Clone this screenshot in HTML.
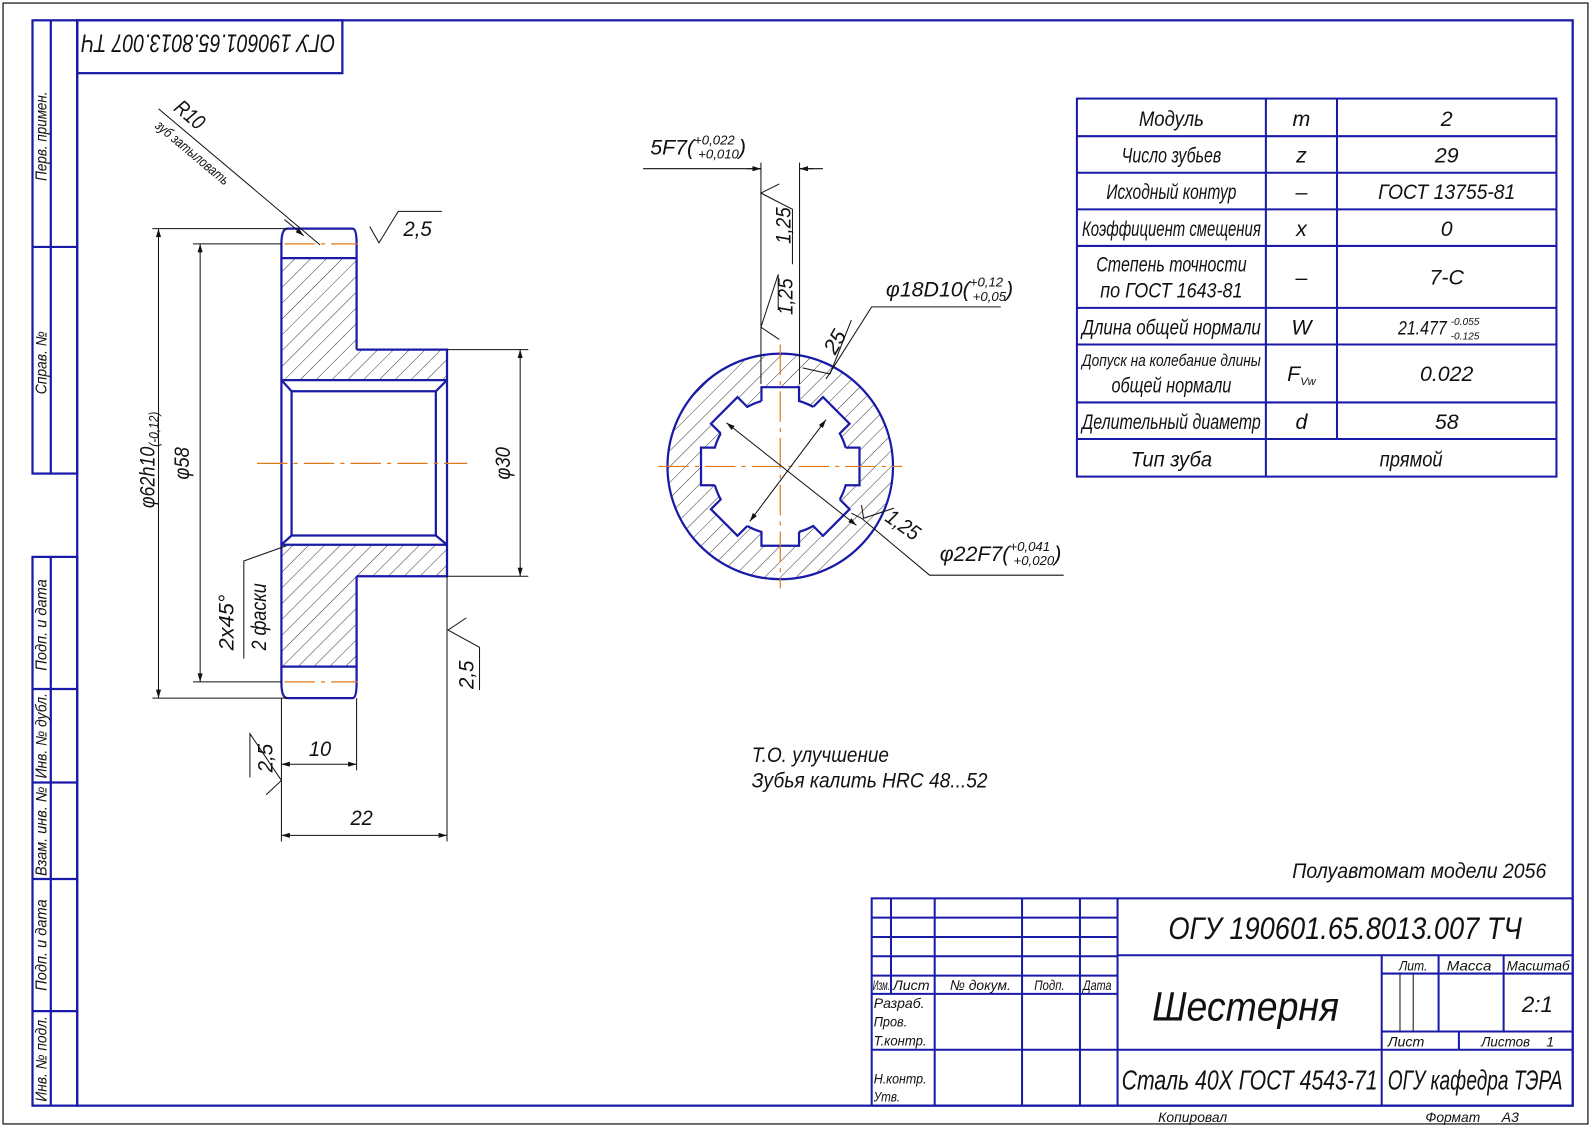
<!DOCTYPE html>
<html><head><meta charset="utf-8"><style>
html,body{margin:0;padding:0;background:#fff;}
svg{display:block;}
text{font-family:"Liberation Sans","DejaVu Sans",sans-serif;font-style:italic;fill:#111;}
</style></head><body>
<svg width="1592" height="1127" viewBox="0 0 1567 1109" preserveAspectRatio="none" xmlns="http://www.w3.org/2000/svg">
<defs>
<pattern id="h" patternUnits="userSpaceOnUse" width="11" height="11" patternTransform="rotate(45)">
<line x1="0" y1="0" x2="0" y2="11" stroke="#222" stroke-width="0.9"/>
</pattern>
<marker id="a" viewBox="0 0 10 6" refX="10" refY="3" markerWidth="14" markerHeight="5" orient="auto-start-reverse" markerUnits="userSpaceOnUse"><path d="M0,0 L10,3 L0,6z" fill="#111"/></marker>
</defs>
<rect x="0" y="0" width="1567" height="1109" fill="#fff"/>
<rect x="3" y="3" width="1560" height="1103" fill="none" stroke="#111" stroke-width="1.2"/>
<g fill="none" stroke="#1a1aa8" stroke-width="2.2">
<rect x="76" y="20" width="1472" height="1068"/>
<rect x="32" y="20" width="44" height="446"/>
<line x1="50" y1="20" x2="50" y2="466"/><line x1="32" y1="243" x2="76" y2="243"/>
<rect x="32" y="548" width="44" height="540"/>
<line x1="50" y1="548" x2="50" y2="1088"/>
<line x1="32" y1="678" x2="76" y2="678"/><line x1="32" y1="770" x2="76" y2="770"/><line x1="32" y1="865" x2="76" y2="865"/><line x1="32" y1="995" x2="76" y2="995"/>
<rect x="76" y="20" width="261" height="52"/>
</g>
<g font-size="15">
<text transform="translate(46,178) rotate(-90)" textLength="88" lengthAdjust="spacingAndGlyphs">Перв. примен.</text>
<text transform="translate(46,388) rotate(-90)" textLength="62" lengthAdjust="spacingAndGlyphs">Справ. №</text>
<text transform="translate(46,660) rotate(-90)" textLength="90" lengthAdjust="spacingAndGlyphs">Подп. и дата</text>
<text transform="translate(46,766) rotate(-90)" textLength="84" lengthAdjust="spacingAndGlyphs">Инв. № дубл.</text>
<text transform="translate(46,862) rotate(-90)" textLength="88" lengthAdjust="spacingAndGlyphs">Взам. инв. №</text>
<text transform="translate(46,975) rotate(-90)" textLength="90" lengthAdjust="spacingAndGlyphs">Подп. и дата</text>
<text transform="translate(46,1084) rotate(-90)" textLength="84" lengthAdjust="spacingAndGlyphs">Инв. № подл.</text>
</g>
<text transform="translate(330,34) rotate(180)" font-size="25" textLength="250" lengthAdjust="spacingAndGlyphs">ОГУ 190601.65.8013.007 ТЧ</text>

<!-- left section view -->
<path d="M277,254 H351 V344 H440 V374 H277Z M277,536 H440 V567 H351 V656 H277Z" fill="url(#h)"/>
<g fill="none" stroke="#1a1aa8" stroke-width="2.2">
<path d="M351,344 V240 Q351,225 347,225 H283 Q277,225 277,240 V672 Q277,687 283,687 H347 Q351,687 351,672 V567"/>
<line x1="277" y1="254" x2="351" y2="254"/><line x1="277" y1="656" x2="351" y2="656"/>
<path d="M351,344 H440 V567 H351"/>
<line x1="277" y1="374" x2="440" y2="374"/><line x1="277" y1="536" x2="440" y2="536"/>
<path d="M277,374 L287,385 H429 L440,374 M277,536 L287,527 H429 L440,536 M287,385 V527 M429,385 V527"/>
</g>
<g stroke="#e07a1a" stroke-width="1.2" stroke-dasharray="30,6,4,6" fill="none">
<line x1="253" y1="456" x2="460" y2="456"/>
<line x1="280" y1="240" x2="352" y2="240"/><line x1="280" y1="671" x2="352" y2="671"/>
</g>
<g stroke="#111" stroke-width="1" fill="none">
<line x1="150" y1="225" x2="283" y2="225"/><line x1="150" y1="687" x2="283" y2="687"/>
<line x1="156" y1="225" x2="156" y2="687" marker-start="url(#a)" marker-end="url(#a)"/>
<line x1="190" y1="240" x2="277" y2="240"/><line x1="190" y1="671" x2="277" y2="671"/>
<line x1="197" y1="240" x2="197" y2="671" marker-start="url(#a)" marker-end="url(#a)"/>
<line x1="440" y1="344" x2="520" y2="344"/><line x1="440" y1="567" x2="520" y2="567"/>
<line x1="512" y1="344" x2="512" y2="567" marker-start="url(#a)" marker-end="url(#a)"/>
<line x1="277" y1="687" x2="277" y2="828"/><line x1="351" y1="687" x2="351" y2="758"/><line x1="440" y1="567" x2="440" y2="828"/>
<line x1="277" y1="752" x2="351" y2="752" marker-start="url(#a)" marker-end="url(#a)"/>
<line x1="277" y1="822" x2="440" y2="822" marker-start="url(#a)" marker-end="url(#a)"/>
<line x1="156" y1="107" x2="315" y2="241"/>
<line x1="280" y1="216" x2="299" y2="232" marker-end="url(#a)"/>
<polyline points="364,223 373,239 392,208 435,208"/>
<polyline points="459,608 441,620 472,637 472,679"/>
<polyline points="262,782 277,768 246,722 246,765"/>
<polyline points="282,537 240,552 240,648"/>
</g>
<g font-size="21">
<text transform="translate(152,500) rotate(-90)" textLength="95" lengthAdjust="spacingAndGlyphs">φ62h10<tspan font-size="14" dy="4">(-0,12)</tspan></text>
<text transform="translate(186,472) rotate(-90)" textLength="32" lengthAdjust="spacingAndGlyphs">φ58</text>
<text transform="translate(502,472) rotate(-90)" textLength="32" lengthAdjust="spacingAndGlyphs">φ30</text>
<text transform="translate(230,640) rotate(-90)" textLength="55" lengthAdjust="spacingAndGlyphs">2х45°</text>
<text transform="translate(262,640) rotate(-90)" textLength="66" lengthAdjust="spacingAndGlyphs">2 фаски</text>
<text x="397" y="232" textLength="28" lengthAdjust="spacingAndGlyphs">2,5</text>
<text transform="translate(466,678) rotate(-90)" textLength="28" lengthAdjust="spacingAndGlyphs">2,5</text>
<text transform="translate(268,760) rotate(-90)" textLength="28" lengthAdjust="spacingAndGlyphs">2,5</text>
<text x="304" y="744" textLength="22" lengthAdjust="spacingAndGlyphs">10</text>
<text x="345" y="812" textLength="22" lengthAdjust="spacingAndGlyphs">22</text>
<text transform="translate(170,108) rotate(40)" textLength="32" lengthAdjust="spacingAndGlyphs">R10</text>
<text transform="translate(152,125) rotate(40)" font-size="14" textLength="90" lengthAdjust="spacingAndGlyphs">зуб затыловать</text>
</g>

<!-- circular view -->
<g transform="translate(768,459)">
<circle r="111" fill="url(#h)"/>
<g fill="#fff">
<circle r="67"/>
<rect x="0" y="-18.5" width="78" height="37" transform="rotate(0)"/>
<rect x="0" y="-18.5" width="78" height="37" transform="rotate(45)"/>
<rect x="0" y="-18.5" width="78" height="37" transform="rotate(90)"/>
<rect x="0" y="-18.5" width="78" height="37" transform="rotate(135)"/>
<rect x="0" y="-18.5" width="78" height="37" transform="rotate(180)"/>
<rect x="0" y="-18.5" width="78" height="37" transform="rotate(225)"/>
<rect x="0" y="-18.5" width="78" height="37" transform="rotate(270)"/>
<rect x="0" y="-18.5" width="78" height="37" transform="rotate(315)"/>
</g>
<g fill="none" stroke="#1a1aa8" stroke-width="2.2">
<circle r="111"/>
<g id="sp"><path d="M64.4,-18.5 L78,-18.5 L78,18.5 L64.4,18.5 A67,67 0 0 1 58.6,32.45"/></g>
<use href="#sp" transform="rotate(45)"/><use href="#sp" transform="rotate(90)"/><use href="#sp" transform="rotate(135)"/>
<use href="#sp" transform="rotate(180)"/><use href="#sp" transform="rotate(225)"/><use href="#sp" transform="rotate(270)"/><use href="#sp" transform="rotate(315)"/>
</g>
<g stroke="#e07a1a" stroke-width="1.2" stroke-dasharray="30,6,4,6">
<line x1="-120" y1="0" x2="120" y2="0"/><line x1="0" y1="-120" x2="0" y2="120"/>
</g>
<g stroke="#111" stroke-width="1" fill="none">
<line x1="-53" y1="-43" x2="75" y2="58" marker-start="url(#a)" marker-end="url(#a)"/>
<line x1="45" y1="-46" x2="-30" y2="54" marker-start="url(#a)" marker-end="url(#a)"/>
</g>
</g>
<g stroke="#111" stroke-width="1" fill="none">
<line x1="749" y1="160" x2="749" y2="378"/><line x1="787" y1="160" x2="787" y2="378"/>
<line x1="633" y1="166" x2="749" y2="166"/><line x1="735" y1="166" x2="749" y2="166" marker-end="url(#a)"/>
<line x1="787" y1="166" x2="810" y2="166"/><line x1="801" y1="166" x2="787" y2="166" marker-end="url(#a)"/>
<polyline points="767,181 749,190 780,206 780,260"/>
<polyline points="767,334 749,322 766,270 766,305"/>
<polyline points="813,373 858,302 985,302"/>
<polyline points="790,362 817,368 838,315"/>
<polyline points="838,505 848,510 915,566 1047,566"/>
<polyline points="848,497 850,510 880,500"/>
</g>
<g font-size="21">
<text x="640" y="152">5F7(<tspan font-size="13" dy="-10">+0,022</tspan><tspan font-size="13" dx="-36" dy="14">+0,010</tspan><tspan dy="-4">)</tspan></text>
<text transform="translate(778,240) rotate(-90)" textLength="36" lengthAdjust="spacingAndGlyphs">1,25</text>
<text transform="translate(780,310) rotate(-90)" textLength="36" lengthAdjust="spacingAndGlyphs">1,25</text>
<text x="872" y="292">φ18D10(<tspan font-size="13" dy="-10">+0,12</tspan><tspan font-size="13" dx="-30" dy="14">+0,05</tspan><tspan dy="-4">)</tspan></text>
<text transform="translate(822,350) rotate(-60)">25</text>
<text transform="translate(870,512) rotate(35)" textLength="36" lengthAdjust="spacingAndGlyphs">1,25</text>
<text x="925" y="552">φ22F7(<tspan font-size="13" dy="-10">+0,041</tspan><tspan font-size="13" dx="-36" dy="14">+0,020</tspan><tspan dy="-4">)</tspan></text>
<text x="740" y="750" textLength="135" lengthAdjust="spacingAndGlyphs">Т.О. улучшение</text>
<text x="740" y="775" textLength="232" lengthAdjust="spacingAndGlyphs">Зубья калить HRC 48...52</text>
<text x="1272" y="864" textLength="250" lengthAdjust="spacingAndGlyphs">Полуавтомат модели 2056</text>
</g>

<!-- parameter table -->
<g fill="none" stroke="#1a1aa8" stroke-width="2">
<rect x="1060" y="97" width="472" height="372"/>
<line x1="1246" y1="97" x2="1246" y2="469"/><line x1="1316" y1="97" x2="1316" y2="432"/>
<line x1="1060" y1="134" x2="1532" y2="134"/><line x1="1060" y1="170" x2="1532" y2="170"/>
<line x1="1060" y1="206" x2="1532" y2="206"/><line x1="1060" y1="242" x2="1532" y2="242"/>
<line x1="1060" y1="303" x2="1532" y2="303"/><line x1="1060" y1="339" x2="1532" y2="339"/>
<line x1="1060" y1="396" x2="1532" y2="396"/><line x1="1060" y1="432" x2="1532" y2="432"/>
</g>
<g font-size="21" text-anchor="middle">
<text x="1153" y="124" textLength="64" lengthAdjust="spacingAndGlyphs">Модуль</text><text x="1281" y="124">m</text><text x="1424" y="124">2</text>
<text x="1153" y="160" textLength="98" lengthAdjust="spacingAndGlyphs">Число зубьев</text><text x="1281" y="160">z</text><text x="1424" y="160">29</text>
<text x="1153" y="196" textLength="128" lengthAdjust="spacingAndGlyphs">Исходный контур</text><text x="1281" y="196">–</text><text x="1424" y="196" textLength="135" lengthAdjust="spacingAndGlyphs">ГОСТ 13755-81</text>
<text x="1153" y="232" textLength="176" lengthAdjust="spacingAndGlyphs">Коэффициент смещения</text><text x="1281" y="232">x</text><text x="1424" y="232">0</text>
<text x="1153" y="267" textLength="148" lengthAdjust="spacingAndGlyphs">Степень точности</text><text x="1153" y="293" textLength="140" lengthAdjust="spacingAndGlyphs">по ГОСТ 1643-81</text><text x="1281" y="280">–</text><text x="1424" y="280">7-С</text>
<text x="1153" y="329" textLength="176" lengthAdjust="spacingAndGlyphs">Длина общей нормали</text><text x="1281" y="329">W</text><text x="1400" y="329" font-size="19" textLength="48" lengthAdjust="spacingAndGlyphs">21.477</text><text x="1442" y="320" font-size="10">-0.055</text><text x="1442" y="334" font-size="10">-0.125</text>
<text x="1153" y="360" font-size="16" textLength="176" lengthAdjust="spacingAndGlyphs">Допуск на колебание длины</text><text x="1153" y="386" textLength="118" lengthAdjust="spacingAndGlyphs">общей нормали</text><text x="1281" y="375">F<tspan font-size="11" dy="4">Vw</tspan></text><text x="1424" y="375">0.022</text>
<text x="1153" y="422" textLength="176" lengthAdjust="spacingAndGlyphs">Делительный диаметр</text><text x="1281" y="422">d</text><text x="1424" y="422">58</text>
<text x="1153" y="459" textLength="80" lengthAdjust="spacingAndGlyphs">Тип зуба</text><text x="1389" y="459" textLength="62" lengthAdjust="spacingAndGlyphs">прямой</text>
</g>

<!-- title block -->
<g fill="none" stroke="#1a1aa8" stroke-width="2">
<rect x="858" y="884" width="690" height="204"/>
<line x1="1100" y1="884" x2="1100" y2="1088"/>
<line x1="877" y1="884" x2="877" y2="978"/><line x1="920" y1="884" x2="920" y2="1088"/>
<line x1="1006" y1="884" x2="1006" y2="1088"/><line x1="1063" y1="884" x2="1063" y2="1088"/>
<line x1="858" y1="903" x2="1100" y2="903"/><line x1="858" y1="922" x2="1100" y2="922"/>
<line x1="858" y1="941" x2="1100" y2="941"/><line x1="858" y1="960" x2="1100" y2="960"/>
<line x1="858" y1="978" x2="1100" y2="978"/><line x1="858" y1="1033" x2="1100" y2="1033"/>
<line x1="1100" y1="940" x2="1548" y2="940"/><line x1="1100" y1="1033" x2="1548" y2="1033"/>
<line x1="1360" y1="940" x2="1360" y2="1088"/>
<line x1="1360" y1="958" x2="1548" y2="958"/><line x1="1360" y1="1015" x2="1548" y2="1015"/>
<line x1="1416" y1="940" x2="1416" y2="1015"/><line x1="1480" y1="940" x2="1480" y2="1015"/>
<line x1="1436" y1="1015" x2="1436" y2="1033"/>
</g>
<g stroke="#111" stroke-width="1"><line x1="1378" y1="958" x2="1378" y2="1015"/><line x1="1391" y1="958" x2="1391" y2="1015"/></g>
<g font-size="14">
<text x="859" y="974" textLength="17" lengthAdjust="spacingAndGlyphs">Изм.</text><text x="879" y="974" textLength="36" lengthAdjust="spacingAndGlyphs">Лист</text><text x="935" y="974" textLength="60" lengthAdjust="spacingAndGlyphs">№ докум.</text><text x="1018" y="974" textLength="30" lengthAdjust="spacingAndGlyphs">Подп.</text><text x="1066" y="974" textLength="28" lengthAdjust="spacingAndGlyphs">Дата</text>
<text x="860" y="992" textLength="50" lengthAdjust="spacingAndGlyphs">Разраб.</text><text x="860" y="1010" textLength="33" lengthAdjust="spacingAndGlyphs">Пров.</text><text x="860" y="1029" textLength="52" lengthAdjust="spacingAndGlyphs">Т.контр.</text>
<text x="860" y="1066" textLength="52" lengthAdjust="spacingAndGlyphs">Н.контр.</text><text x="860" y="1084" textLength="26" lengthAdjust="spacingAndGlyphs">Утв.</text>
<text x="1377" y="955" textLength="28" lengthAdjust="spacingAndGlyphs">Лит.</text><text x="1424" y="955" textLength="44" lengthAdjust="spacingAndGlyphs">Масса</text><text x="1483" y="955" textLength="62" lengthAdjust="spacingAndGlyphs">Масштаб</text>
<text x="1366" y="1030" textLength="36" lengthAdjust="spacingAndGlyphs">Лист</text><text x="1458" y="1030" textLength="48" lengthAdjust="spacingAndGlyphs">Листов</text><text x="1522" y="1030">1</text>
<text x="1140" y="1104" textLength="68" lengthAdjust="spacingAndGlyphs">Копировал</text><text x="1403" y="1104" textLength="54" lengthAdjust="spacingAndGlyphs">Формат</text><text x="1478" y="1104">А3</text>
</g>
<text x="1150" y="924" font-size="31" textLength="348" lengthAdjust="spacingAndGlyphs">ОГУ 190601.65.8013.007 ТЧ</text>
<text x="1134" y="1004" font-size="40" textLength="184" lengthAdjust="spacingAndGlyphs">Шестерня</text>
<text x="1498" y="996" font-size="22">2:1</text>
<text x="1104" y="1072" font-size="27" textLength="252" lengthAdjust="spacingAndGlyphs">Сталь 40Х ГОСТ 4543-71</text>
<text x="1366" y="1072" font-size="27" textLength="172" lengthAdjust="spacingAndGlyphs">ОГУ кафедра ТЭРА</text>
</svg>
</body></html>
